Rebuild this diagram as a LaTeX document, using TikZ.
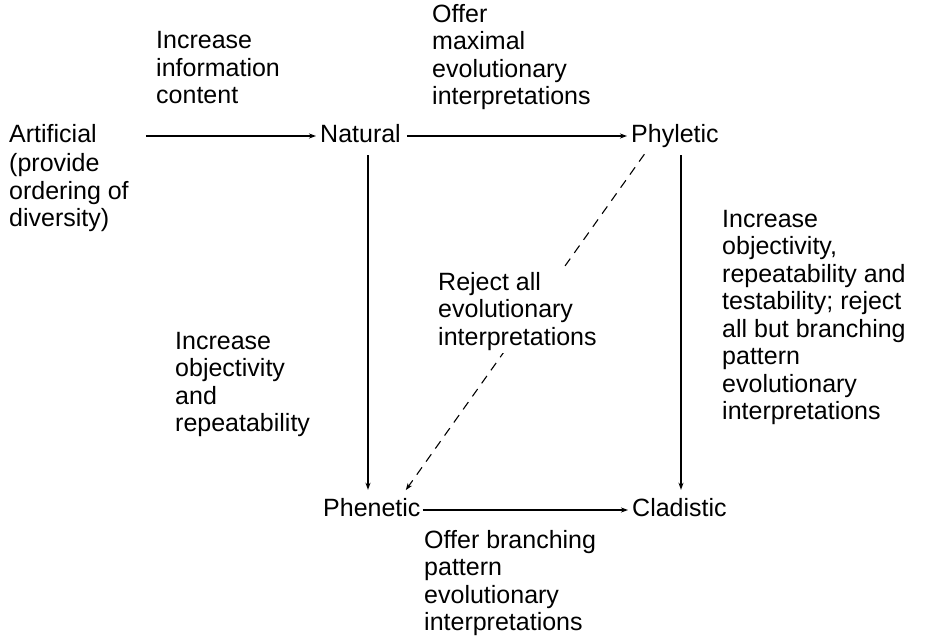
\documentclass[tikz,border=0pt]{standalone}
\usepackage{fontspec}
\setmainfont{Liberation Sans}
\usetikzlibrary{arrows.meta}
\begin{document}
\begin{tikzpicture}[x=1pt,y=-1pt,
  every node/.style={font=\fontsize{25}{27.5}\selectfont},
  term/.style={anchor=base west,inner sep=0pt,text height=18pt,text depth=5pt},
  note/.style={anchor=north west,inner sep=0pt,align=left},
  arr/.style={line width=1.1pt,-{Stealth[length=7pt,width=5pt,inset=2pt]}},
  dashline/.style={arr,dash pattern=on 9pt off 7pt}]
\useasboundingbox (0,0) rectangle (928,642);

% the five kinds of classification
\node[term] (art) at (9,142.5) {Artificial};
\node[note] (artn) at (9,153.5) {(provide\\ordering of\\diversity)};
\node[term] (nat) at (320,142.5) {Natural};
\node[term] (phy) at (631,142.5) {Phyletic};
\node[term] (phe) at (323,516.5) {Phenetic};
\node[term] (cla) at (632,516.5) {Cladistic};

% transitions
\draw[arr,shorten >=4pt] ([xshift=49pt]art.east) -- (nat.west);
\draw[arr,shorten <=6pt,shorten >=4pt] (nat.east) -- (phy.west);
\draw[arr,shorten <=7.5pt,shorten >=8.5pt] ([xshift=48pt]nat.south west) -- ([xshift=48pt]nat.south west |- phe.north);
\draw[arr,shorten <=7.5pt,shorten >=8.5pt] ([xshift=50pt]phy.south west) -- ([xshift=50pt]phy.south west |- cla.north);
\draw[dashline,shorten <=8pt,shorten >=10pt] ([xshift=18pt]phy.south west) -- ([xshift=77pt]phe.north west);
\draw[arr,shorten <=2pt,shorten >=4pt] (phe.east) -- (cla.west);

% what each transition does
\node[note] (l1) at (156,31.5) {Increase\\information\\content};
\node[note] (l2) at (432,4) {Offer\\maximal\\evolutionary\\interpretations};
\node[note] (l3) at (175,332) {Increase\\objectivity\\and\\repeatability};
\node[note] (l4) at (722,210) {Increase\\objectivity,\\repeatability and\\testability; reject\\all but branching\\pattern\\evolutionary\\interpretations};
\node[note,fill=white,inner sep=2pt] (l5) at (436,270) {Reject all\\evolutionary\\interpretations};
\node[note] (l6) at (424,530) {Offer branching\\pattern\\evolutionary\\interpretations};
\end{tikzpicture}
\end{document}
